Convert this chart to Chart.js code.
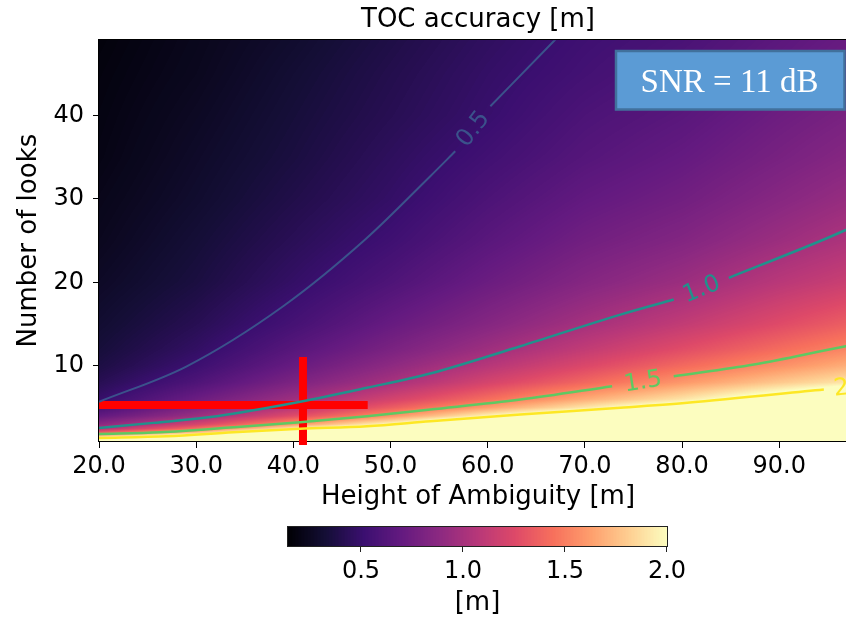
<!DOCTYPE html>
<html>
<head>
<meta charset="utf-8">
<script src="https://cdn.jsdelivr.net/npm/chart.js@4/dist/chart.umd.min.js"></script>
<style>
  html, body { margin: 0; padding: 0; background: #fff; overflow: hidden; }
  #wrap { width: 846px; height: 617px; overflow: hidden; }
  canvas { display: block; }
</style>
</head>
<body>
<div id="wrap"><canvas id="toc" width="857" height="617"></canvas></div>
<script>
// ---- data -------------------------------------------------------------
// Sampled TOC accuracy [m]: one row per number of looks, one column per height of ambiguity
const HOA = [20, 30, 40, 50, 60, 70, 80, 90, 100];
const LOOKS = [1, 1.5, 2, 2.5, 3, 4, 5, 6, 8, 10, 12, 15, 20, 25, 30, 35, 40, 45, 49];
const ACCURACY = [
  [2.72, 3.26, 4.23, 5.08, 6.34, 7.43, 8.52, 9.96, 11.4],
  [1.85, 2.31, 3.00, 3.59, 4.48, 5.27, 6.05, 7.09, 8.13],
  [1.37, 1.77, 2.35, 2.81, 3.51, 4.12, 4.74, 5.54, 6.36],
  [1.04, 1.42, 1.93, 2.33, 2.90, 3.41, 3.92, 4.58, 5.26],
  [0.88, 1.21, 1.60, 2.00, 2.49, 2.92, 3.36, 3.93, 4.50],
  [0.69, 0.95, 1.27, 1.58, 1.97, 2.30, 2.63, 3.08, 3.53],
  [0.57, 0.82, 1.08, 1.35, 1.63, 1.91, 2.18, 2.54, 2.92],
  [0.49, 0.73, 0.96, 1.20, 1.43, 1.68, 1.90, 2.18, 2.50],
  [0.42, 0.60, 0.81, 1.00, 1.21, 1.40, 1.60, 1.79, 1.96],
  [0.37, 0.52, 0.71, 0.89, 1.07, 1.24, 1.41, 1.57, 1.74],
  [0.34, 0.47, 0.64, 0.80, 0.96, 1.12, 1.27, 1.42, 1.57],
  [0.31, 0.42, 0.56, 0.71, 0.85, 0.99, 1.12, 1.26, 1.40],
  [0.27, 0.36, 0.48, 0.60, 0.73, 0.85, 0.95, 1.08, 1.19],
  [0.24, 0.33, 0.43, 0.53, 0.65, 0.76, 0.84, 0.95, 1.06],
  [0.22, 0.30, 0.39, 0.48, 0.59, 0.69, 0.76, 0.86, 0.96],
  [0.20, 0.28, 0.36, 0.45, 0.54, 0.63, 0.70, 0.79, 0.88],
  [0.19, 0.26, 0.34, 0.42, 0.50, 0.59, 0.65, 0.74, 0.82],
  [0.18, 0.24, 0.32, 0.40, 0.48, 0.55, 0.61, 0.69, 0.77],
  [0.17, 0.23, 0.30, 0.38, 0.46, 0.53, 0.58, 0.66, 0.74]
];

// Iso-accuracy contours (null marks the break where the level label sits)
const LEVELS = [0.5, 1.0, 1.5, 2.0];
const C05_X = [20.0, 29.03, 38.95, 47.39, 54.09, 56.66, 58.5, 60.27, 66.79, 67.4];
const C05_Y = [5.70, 9.95, 17.14, 25.13, 32.71, 35.70, null, 41.09, 48.87, 49.6];
const C10_X = [20.0, 25.59, 32.12, 40.70, 47.57, 54.09, 63.36, 73.66, 79.14, 82.0, 84.81, 94.59, 96.93, 99.0];
const C10_Y = [2.55, 3.17, 3.96, 5.69, 7.37, 9.08, 12.35, 16.14, 17.94, null, 20.54, 25.13, 26.32, 27.4];
const C15_X = [20.0, 26.28, 33.83, 40.70, 47.57, 54.09, 63.36, 72.80, 76.0, 79.14, 87.38, 96.83, 99.0];
const C15_Y = [1.85, 2.05, 2.65, 3.25, 3.96, 4.77, 5.96, 7.56, null, 8.75, 10.16, 12.35, 12.8];
const C20_X = [20.0, 26.97, 33.83, 40.70, 47.57, 54.09, 63.36, 73.66, 80.52, 94.59, 97.5, 100.5];
const C20_Y = [1.37, 1.57, 2.05, 2.46, 2.77, 3.37, 4.17, 4.97, 5.57, 7.16, null, 7.90];

// Operating point marker (height of ambiguity, number of looks)
const MARK_H_X = [20.0, 47.65];
const MARK_H_Y = [5.31, 5.31];
const MARK_V_X = [40.99, 40.99];
const MARK_V_Y = [11.06, 0.52];

// Colour bar
const CBAR_MIN = 0.142;
const CBAR_MAX = 2.0;
const CBAR_TICKS = [0.5, 1.0, 1.5, 2.0];

const TITLE = 'TOC accuracy [m]';
const X_TITLE = 'Height of Ambiguity [m]';
const Y_TITLE = 'Number of looks';
const CBAR_TITLE = '[m]';
const NOTE = 'SNR = 11 dB';

// ---- styling ----------------------------------------------------------
const SANS = "'DejaVu Sans', sans-serif";
const MAGMA = ['#000004', '#140e36', '#3b0f70', '#641a80', '#8c2981', '#b73779',
               '#de4968', '#f7705c', '#fe9f6d', '#fecf92', '#fcfdbf'];
const LEVEL_COLORS = ['#3b528b', '#21918c', '#5ec962', '#fde725'];

function hexRgb(h) {
  return [parseInt(h.slice(1, 3), 16), parseInt(h.slice(3, 5), 16), parseInt(h.slice(5, 7), 16)];
}
const LUT = (() => {
  const stops = MAGMA.map(hexRgb);
  const out = [];
  for (let k = 0; k < 256; k++) {
    const t = k / 255 * (stops.length - 1);
    const i = Math.min(Math.floor(t), stops.length - 2);
    const f = t - i;
    out.push(stops[i].map((c, n) => Math.round(c + (stops[i + 1][n] - c) * f)));
  }
  return out;
})();
function colorFor(v) {
  let t = (v - CBAR_MIN) / (CBAR_MAX - CBAR_MIN);
  t = Math.max(0, Math.min(1, t));
  return LUT[Math.round(t * 255)];
}
function locate(arr, v) {
  const n = arr.length;
  if (v <= arr[0]) return [0, 0];
  if (v >= arr[n - 1]) return [n - 2, 1];
  let i = 0;
  while (arr[i + 1] < v) i++;
  return [i, (v - arr[i]) / (arr[i + 1] - arr[i])];
}

function series(xs, ys) {
  return xs.map((x, i) => ({ x: x, y: ys[i] }));
}

const contourSets = [[C05_X, C05_Y], [C10_X, C10_Y], [C15_X, C15_Y], [C20_X, C20_Y]];
const datasets = contourSets.map((c, k) => ({
  label: LEVELS[k].toFixed(1),
  data: series(c[0], c[1]),
  borderColor: LEVEL_COLORS[k],
  borderWidth: k === 0 ? 2 : 2.5,
  pointRadius: 0,
  cubicInterpolationMode: 'monotone',
  spanGaps: false,
  fill: false
}));
datasets.push({
  label: 'mark-h', data: series(MARK_H_X, MARK_H_Y), borderColor: '#ff0000',
  borderWidth: 8, pointRadius: 0, borderCapStyle: 'butt', clip: false, fill: false
});
datasets.push({
  label: 'mark-v', data: series(MARK_V_X, MARK_V_Y), borderColor: '#ff0000',
  borderWidth: 8, pointRadius: 0, borderCapStyle: 'butt', clip: false, fill: false
});

// paint a horizontal run of colormap pixels into an ImageData row block
function paintStrip(ctx, x0, y0, w, h, valueAt) {
  const img = ctx.createImageData(w, h);
  for (let i = 0; i < w; i++) {
    const rgb = colorFor(valueAt(i));
    for (let j = 0; j < h; j++) {
      const p = (j * w + i) * 4;
      img.data[p] = rgb[0]; img.data[p + 1] = rgb[1]; img.data[p + 2] = rgb[2]; img.data[p + 3] = 255;
    }
  }
  ctx.putImageData(img, x0, y0);
}

// Gouraud-shaded accuracy field under the contours, plus the axes frame
const fieldPlugin = {
  id: 'field',
  beforeDatasetsDraw(chart) {
    const { ctx, chartArea, scales } = chart;
    const left = Math.round(chartArea.left), top = Math.round(chartArea.top);
    const w = Math.round(chartArea.right) - left, h = Math.round(chartArea.bottom) - top;
    const off = document.createElement('canvas');
    off.width = w; off.height = h;
    const octx = off.getContext('2d');
    const img = octx.createImageData(w, h);
    const cols = [];
    for (let i = 0; i < w; i++) cols.push(locate(HOA, scales.x.getValueForPixel(left + i + 0.5)));
    for (let j = 0; j < h; j++) {
      const [r, fy] = locate(LOOKS, scales.y.getValueForPixel(top + j + 0.5));
      const row0 = ACCURACY[r], row1 = ACCURACY[r + 1];
      for (let i = 0; i < w; i++) {
        const [c, fx] = cols[i];
        const a = row0[c] + (row0[c + 1] - row0[c]) * fx;
        const b = row1[c] + (row1[c + 1] - row1[c]) * fx;
        const rgb = colorFor(a + (b - a) * fy);
        const p = (j * w + i) * 4;
        img.data[p] = rgb[0]; img.data[p + 1] = rgb[1]; img.data[p + 2] = rgb[2]; img.data[p + 3] = 255;
      }
    }
    octx.putImageData(img, 0, 0);
    ctx.drawImage(off, left, top);
    ctx.save();
    ctx.strokeStyle = '#000';
    ctx.lineWidth = 1;
    ctx.strokeRect(left - 0.5, top - 0.5, w + 1, h + 1);
    ctx.restore();
  },
  afterDatasetsDraw(chart) {
    const { ctx, scales } = chart;
    // inline level labels, set in each contour's break and turned along it
    ctx.save();
    ctx.font = '24px ' + SANS;
    ctx.textAlign = 'center';
    ctx.textBaseline = 'middle';
    contourSets.forEach((c, k) => {
      const g = c[1].indexOf(null);
      if (g < 1) return;
      const x1 = scales.x.getPixelForValue(c[0][g - 1]), y1 = scales.y.getPixelForValue(c[1][g - 1]);
      const x2 = scales.x.getPixelForValue(c[0][g + 1]), y2 = scales.y.getPixelForValue(c[1][g + 1]);
      ctx.save();
      ctx.translate((x1 + x2) / 2, (y1 + y2) / 2);
      ctx.rotate(Math.atan2(y2 - y1, x2 - x1));
      ctx.fillStyle = LEVEL_COLORS[k];
      ctx.fillText(LEVELS[k].toFixed(1), 0, 1);
      ctx.restore();
    });
    ctx.restore();
  },
  afterDraw(chart) {
    const { ctx } = chart;
    // SNR note
    ctx.save();
    ctx.fillStyle = '#5b9bd5';
    ctx.fillRect(616, 51, 229, 59);
    ctx.strokeStyle = '#41719c';
    ctx.lineWidth = 2.5;
    ctx.strokeRect(616, 51, 228.5, 58.5);
    ctx.fillStyle = '#ffffff';
    ctx.font = "33px 'Liberation Serif', serif";
    ctx.textAlign = 'center';
    ctx.textBaseline = 'alphabetic';
    ctx.fillText(NOTE, 729.5, 92);
    ctx.restore();

    // colour bar
    const L = 288, R = 667, T = 527, B = 546;
    paintStrip(ctx, L, T, R - L, B - T, i => CBAR_MIN + (i + 0.5) / (R - L) * (CBAR_MAX - CBAR_MIN));
    ctx.save();
    ctx.strokeStyle = '#222';
    ctx.lineWidth = 1;
    ctx.strokeRect(L - 0.5, T - 0.5, R - L + 1, B - T + 1);
    ctx.font = '24px ' + SANS;
    ctx.fillStyle = '#000';
    ctx.textAlign = 'center';
    ctx.textBaseline = 'middle';
    CBAR_TICKS.forEach(t => {
      const px = L + (t - CBAR_MIN) / (CBAR_MAX - CBAR_MIN) * (R - L);
      ctx.beginPath();
      ctx.moveTo(Math.round(px) - 0.5, B + 0.5);
      ctx.lineTo(Math.round(px) - 0.5, B + 6);
      ctx.stroke();
      ctx.fillText(t.toFixed(1), px, 572);
    });
    ctx.font = '26px ' + SANS;
    ctx.fillText(CBAR_TITLE, (L + R) / 2, 603);
    ctx.restore();
  }
};

const tickFont = { family: SANS, size: 24 };
const titleFont = { family: SANS, size: 26, weight: 'normal' };

new Chart(document.getElementById('toc'), {
  type: 'line',
  data: { datasets: datasets },
  options: {
    responsive: false,
    animation: false,
    devicePixelRatio: 1,
    events: [],
    layout: { padding: { top: 0, left: 0, right: 0, bottom: 104 } },
    plugins: {
      legend: { display: false },
      tooltip: { enabled: false },
      title: {
        display: true, text: TITLE, fullSize: false, color: '#000',
        font: titleFont, padding: { top: 5, bottom: 4 }
      }
    },
    scales: {
      x: {
        type: 'linear', min: 20, max: 98,
        afterFit(s) { s.height = 72; },
        ticks: {
          stepSize: 10, includeBounds: false, autoSkip: false, maxRotation: 0,
          color: '#000', font: tickFont, padding: 4,
          callback: v => Number(v).toFixed(1)
        },
        grid: { drawOnChartArea: false, drawTicks: true, tickLength: 7, color: '#000' },
        border: { display: true, color: '#000', width: 1 },
        title: { display: true, text: X_TITLE, color: '#000', font: titleFont, padding: { top: 0, bottom: 0 } }
      },
      y: {
        type: 'linear', min: 1, max: 49,
        afterFit(s) { s.width = 99; },
        ticks: {
          stepSize: 10, includeBounds: false, autoSkip: false,
          color: '#000', font: tickFont, padding: 9
        },
        grid: { drawOnChartArea: false, drawTicks: true, tickLength: 6, color: '#000' },
        border: { display: true, color: '#000', width: 1 },
        title: { display: true, text: Y_TITLE, color: '#000', font: titleFont, padding: { top: 14, bottom: 0 } }
      }
    }
  },
  plugins: [fieldPlugin]
});
</script>
</body>
</html>
